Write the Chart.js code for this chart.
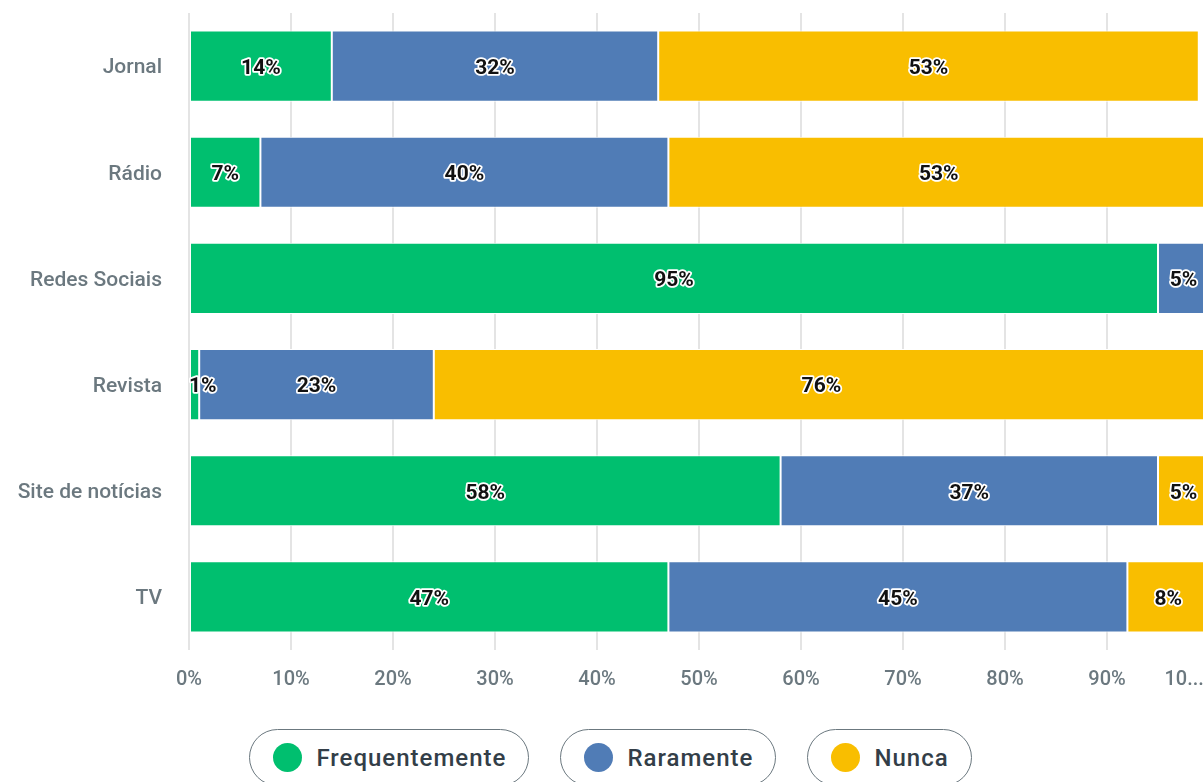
<!DOCTYPE html>
<html>
<head>
<meta charset="utf-8">
<script src="https://cdn.jsdelivr.net/npm/chart.js@4/dist/chart.umd.min.js"></script>
<style>
  html, body { margin: 0; padding: 0; background: #fff; overflow: hidden; width: 1203px; height: 782px; }
  #wrap { position: absolute; left: 0; top: 0; width: 1215px; height: 700px; }
  #legend { position: absolute; left: 0; top: 729px; width: 1221px; display: flex; justify-content: center; gap: 31px; }
  .pill { box-sizing: border-box; height: 57px; border: 1.5px solid #6b787f; border-radius: 29px;
          display: flex; align-items: center; padding: 0 22px 0 23px; }
  .dot { width: 29px; height: 29px; border-radius: 50%; margin-right: 14px; }
  .lbl { font-family: Roboto, "Noto Sans", sans-serif; font-weight: 500; font-size: 24px; letter-spacing: 1px; color: #333e48; }
</style>
</head>
<body>
<div id="wrap"><canvas id="c"></canvas></div>
<div id="legend"></div>
<script>
const categories = ['Jornal', 'Rádio', 'Redes Sociais', 'Revista', 'Site de notícias', 'TV'];
const seriesNames = ['Frequentemente', 'Raramente', 'Nunca'];
const frequentemente = [14, 7, 95, 1, 58, 47];
const raramente = [32, 40, 5, 23, 37, 45];
const nunca = [53, 53, 0, 76, 5, 8];
const tickLabels = ['0%', '10%', '20%', '30%', '40%', '50%', '60%', '70%', '80%', '90%', '10...'];
const colors = ['#00bf6f', '#507cb6', '#f9be00'];

const seriesValues = [frequentemente, raramente, nunca];

const dataLabelPlugin = {
  id: 'segLabels',
  afterDatasetsDraw(chart) {
    const ctx = chart.ctx;
    const area = chart.chartArea;
    ctx.save();
    ctx.font = 'bold 21px Roboto, "Noto Sans", sans-serif';
    ctx.textAlign = 'center';
    ctx.textBaseline = 'middle';
    ctx.lineJoin = 'round';
    chart.data.datasets.forEach((ds, di) => {
      const meta = chart.getDatasetMeta(di);
      meta.data.forEach((bar, i) => {
        const v = ds.data[i];
        if (!v) return;
        const txt = v + '%';
        const w = ctx.measureText(txt).width;
        let cx = (bar.x + bar.base) / 2;
        cx = Math.max(cx, area.left + w / 2);
        const cy = bar.y + 2.5;
        ctx.lineWidth = 3.5;
        ctx.strokeStyle = '#ffffff';
        ctx.strokeText(txt, cx, cy);
        ctx.fillStyle = '#111111';
        ctx.fillText(txt, cx, cy);
      });
    });
    ctx.restore();
  }
};

function zeroPad(s) { s.paddingLeft = 0; s.paddingRight = 0; s.paddingTop = 0; s.paddingBottom = 0; }

new Chart(document.getElementById('c'), {
  type: 'bar',
  data: {
    labels: categories,
    datasets: seriesNames.map((n, i) => ({
      label: n,
      data: seriesValues[i],
      backgroundColor: colors[i],
      borderColor: '#ffffff',
      borderWidth: 1,
      borderSkipped: false,
      categoryPercentage: 1,
      barPercentage: 0.67
    }))
  },
  options: {
    indexAxis: 'y',
    responsive: true,
    maintainAspectRatio: false,
    animation: false,
    layout: { autoPadding: false, padding: { top: 13, right: 6, bottom: 0, left: 0 } },
    plugins: { legend: { display: false }, tooltip: { enabled: false } },
    scales: {
      x: {
        stacked: true,
        min: 0, max: 100,
        afterFit(s) { s.height = 50; zeroPad(s); },
        ticks: {
          stepSize: 10, autoSkip: false, maxRotation: 0,
          padding: 18,
          color: '#6b787f',
          font: { family: 'Roboto, "Noto Sans", sans-serif', size: 20, weight: '500' },
          callback(v, idx) {
            const t = tickLabels[idx];
            return idx === tickLabels.length - 1 ? t + '\u00a0'.repeat(10) : t;
          }
        },
        grid: { color: '#e4e4e4', lineWidth: 2, drawTicks: false },
        border: { display: false }
      },
      y: {
        stacked: true,
        afterFit(s) { s.width = 189; zeroPad(s); },
        ticks: {
          padding: 27,
          labelOffset: 2,
          color: '#6b787f',
          font: { family: 'Roboto, "Noto Sans", sans-serif', size: 21, weight: '500' }
        },
        grid: { display: false, drawTicks: false },
        border: { display: false }
      }
    }
  },
  plugins: [dataLabelPlugin]
});

const legend = document.getElementById('legend');
seriesNames.forEach((n, i) => {
  const p = document.createElement('div');
  p.className = 'pill';
  const d = document.createElement('span');
  d.className = 'dot';
  d.style.background = colors[i];
  const l = document.createElement('span');
  l.className = 'lbl';
  l.textContent = n;
  p.appendChild(d); p.appendChild(l);
  legend.appendChild(p);
});
</script>
</body>
</html>
